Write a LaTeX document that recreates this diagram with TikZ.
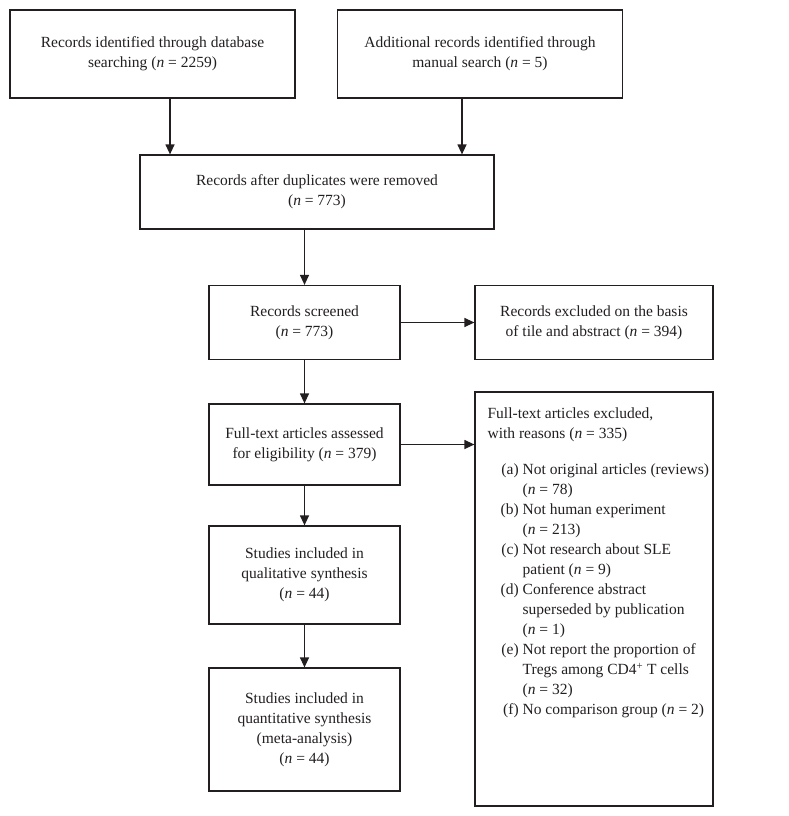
\documentclass[tikz,border=0pt]{standalone}
\usepackage{fontspec}
\setmainfont{Liberation Serif}
\usetikzlibrary{arrows.meta}
\definecolor{ink}{RGB}{35,31,32}
\tikzset{
  box/.style={draw=ink, line width=1.2pt, text=ink, align=center, inner sep=0pt,
    font=\fontsize{15.5}{20}\selectfont},
  arr/.style={draw=ink, line width=1.2pt, -{Triangle[length=10pt,width=9pt]}}
}
\newcommand{\nn}{\textit{n}}
\begin{document}
\begin{tikzpicture}[x=1pt,y=-1pt]
\useasboundingbox[fill=white] (0,0) rectangle (788,816);
\node[box, minimum width=285pt, minimum height=88pt] (A) at (152.5,54) {Records identified through database\\searching (\nn{} = 2259)};
\node[box, minimum width=285pt, minimum height=88pt] (B) at (480,54) {Additional records identified through\\manual search (\nn{} = 5)};
\node[box, minimum width=354pt, minimum height=74pt] (C) at (317,192) {Records after duplicates were removed\\(\nn{} = 773)};
\node[box, minimum width=191pt, minimum height=74pt] (D) at (304.5,322.5) {Records screened\\(\nn{} = 773)};
\node[box, minimum width=238pt, minimum height=74pt] (E) at (594,322.5) {Records excluded on the basis\\of tile and abstract (\nn{} = 394)};
\node[box, minimum width=191pt, minimum height=81pt] (F) at (304.5,444.5) {Full-text articles assessed\\for eligibility (\nn{} = 379)};
\node[box, minimum width=238pt, minimum height=414pt] (G) at (594,599) {};
\node[box, draw=none, anchor=north west, align=left] (Gt) at (487,407) {Full-text articles excluded,\\with reasons (\nn{} = 335)\\[18pt]
\hspace*{13pt}\begin{tabular}{@{}r@{\hspace{4pt}}l@{}}
(a) & Not original articles (reviews)\\
    & (\nn{} = 78)\\
(b) & Not human experiment\\
    & (\nn{} = 213)\\
(c) & Not research about SLE\\
    & patient (\nn{} = 9)\\
(d) & Conference abstract\\
    & superseded by publication\\
    & (\nn{} = 1)\\
(e) & Not report the proportion of\\
    & Tregs among CD4\textsuperscript{+} T cells\\
    & (\nn{} = 32)\\
(f) & No comparison group (\nn{} = 2)
\end{tabular}};
\node[box, minimum width=191pt, minimum height=98pt] (H) at (304.5,575) {Studies included in\\qualitative synthesis\\(\nn{} = 44)};
\node[box, minimum width=191pt, minimum height=123pt] (I) at (304.5,729.5) {Studies included in\\quantitative synthesis\\(meta-analysis)\\(\nn{} = 44)};
\draw[arr] ([xshift=17.5pt]A.south) -- ([xshift=17.5pt]A.south |- C.north);
\draw[arr] ([xshift=-18pt]B.south) -- ([xshift=-18pt]B.south |- C.north);
\draw[arr] (C.south -| D.north) -- (D.north);
\draw[arr] (D.east) -- (E.west);
\draw[arr] (D.south) -- (F.north);
\draw[arr] (F.east) -- (F.east -| G.west);
\draw[arr] (F.south) -- (H.north);
\draw[arr] (H.south) -- (I.north);
\end{tikzpicture}
\end{document}
